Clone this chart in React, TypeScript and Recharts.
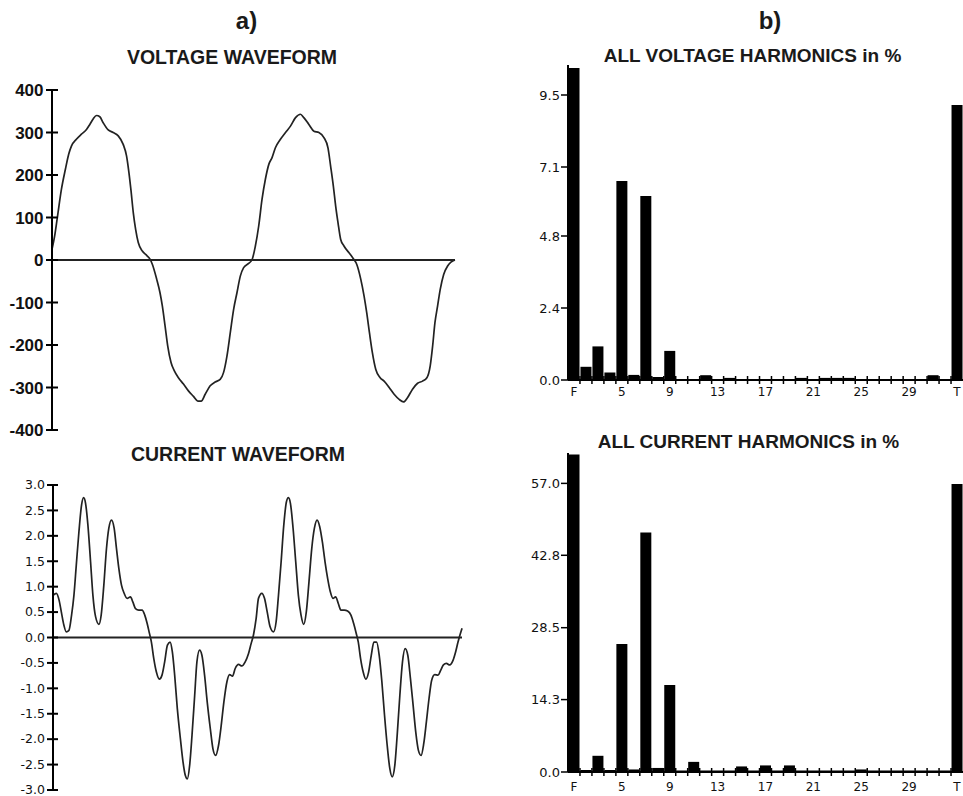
import React from "react";
import { LineChart, Line, BarChart, Bar, XAxis, YAxis, ReferenceLine } from "recharts";

// waveform samples (t in ms)
const voltageT = [
  0, 0.26, 0.53, 0.93, 1.32, 1.65, 1.92, 2.41, 2.91, 3.41, 3.74, 4.07, 4.4, 4.73, 5.06, 5.56, 6.05, 6.55,
  7.04, 7.37, 7.61, 7.8, 8.04, 8.27, 8.53, 8.93, 9.36, 9.69, 9.92, 10.35, 10.68, 10.91, 11.18, 11.44, 11.77,
  12.1, 12.5, 13.0, 13.49, 13.99, 14.42, 14.75, 15.15, 15.64, 16.14, 16.63, 16.96, 17.3, 17.63, 17.96, 18.29,
  18.62, 18.95, 19.44, 19.77, 20.11, 20.44, 20.77, 21.1, 21.44, 21.76, 22.09, 22.59, 23.09, 23.58, 24.08,
  24.57, 24.9, 25.4, 25.9, 26.39, 26.89, 27.29, 27.55, 27.82, 28.05, 28.28, 28.54, 28.87, 29.37, 29.8, 30.13,
  30.53, 30.86, 31.12, 31.39, 31.68, 32.01, 32.45, 32.84, 33.34, 33.83, 34.33, 34.76, 35.15, 35.65, 36.15,
  36.64, 37.07, 37.4, 37.64, 37.87, 38.13, 38.39, 38.73, 39.12, 39.45, 39.85,
];
const voltageV = [
  25, 56, 100, 166, 213, 249, 268, 284, 296, 307, 319, 332, 340, 337, 323, 306, 300, 292,
  272, 245, 205, 166, 111, 72, 41, 21, 11, 2, -10, -45, -77, -108, -155, -202, -241,
  -261, -277, -292, -308, -321, -332, -332, -316, -296, -287, -281, -265, -226, -171, -116, -77,
  -38, -18, -8, 0, 33, 80, 143, 190, 225, 241, 264, 284, 300, 315, 335,
  343, 335, 319, 303, 300, 288, 264, 221, 174, 127, 88, 49, 33, 17, 3, -10,
  -45, -85, -124, -171, -218, -257, -277, -285, -300, -316, -328, -334, -324, -304, -290,
  -285, -277, -249, -202, -147, -108, -69, -34, -14, -5, 0,
];

const currentT = [
  0, 0.33, 0.59, 0.81, 1.07, 1.3, 1.56, 1.82, 2.05, 2.28, 2.54, 2.8, 3.0, 3.19, 3.42, 3.68, 3.91, 4.17,
  4.5, 4.72, 4.98, 5.24, 5.47, 5.73, 5.99, 6.22, 6.45, 6.71, 6.97, 7.26, 7.59, 7.82, 8.08, 8.4, 8.73, 8.99,
  9.22, 9.45, 9.64, 9.87, 10.13, 10.42, 10.68, 10.94, 11.21, 11.47, 11.69, 11.92, 12.18, 12.48, 12.74,
  12.96, 13.16, 13.39, 13.62, 13.88, 14.1, 14.36, 14.59, 14.85, 15.11, 15.41, 15.67, 15.93, 16.22, 16.48,
  16.74, 17.04, 17.3, 17.59, 17.85, 18.18, 18.5, 18.83, 19.15, 19.41, 19.64, 19.9, 20.13,
  20.46, 20.72, 20.98, 21.27, 21.6, 21.86, 22.09, 22.35, 22.61, 22.87, 23.06, 23.26, 23.52, 23.78, 24.04,
  24.3, 24.56, 24.82, 25.08, 25.35, 25.61, 25.87, 26.13, 26.39, 26.65, 26.91, 27.17, 27.43, 27.69, 27.95,
  28.21, 28.54, 28.86, 29.19, 29.45, 29.71, 29.91, 30.13, 30.39, 30.65, 30.92, 31.18, 31.44, 31.7, 31.96,
  32.22, 32.48, 32.74, 33.0, 33.23, 33.49, 33.72, 33.98, 34.24, 34.5, 34.76, 35.02, 35.28, 35.54, 35.8,
  36.06, 36.32, 36.58, 36.84, 37.1, 37.4, 37.72, 37.99, 38.25, 38.54, 38.87, 39.19, 39.45, 39.68, 39.87, 40.07,
];
const currentI = [
  0.83, 0.87, 0.74, 0.51, 0.24, 0.11, 0.14, 0.44, 0.83, 1.42, 2.08, 2.61, 2.75, 2.64, 2.21, 1.49, 0.83, 0.41,
  0.26, 0.44, 1.03, 1.75, 2.15, 2.31, 2.15, 1.75, 1.36, 1.03, 0.87, 0.77, 0.8, 0.7, 0.57, 0.54, 0.54, 0.44,
  0.28, 0.08, -0.09, -0.41, -0.68, -0.82, -0.74, -0.48, -0.15, -0.09, -0.28, -0.74, -1.4, -1.99, -2.45,
  -2.71, -2.78, -2.51, -1.92, -1.14, -0.48, -0.25, -0.35, -0.74, -1.27, -1.79, -2.19, -2.32, -2.12, -1.73,
  -1.27, -0.87, -0.73, -0.76, -0.61, -0.53, -0.56, -0.48, -0.32, -0.12, 0.05, 0.37, 0.77,
  0.87, 0.77, 0.51, 0.21, 0.11, 0.31, 0.83, 1.49, 2.21, 2.67, 2.75, 2.64, 2.15, 1.49, 0.83,
  0.44, 0.26, 0.51, 1.1, 1.75, 2.15, 2.31, 2.18, 1.88, 1.49, 1.16, 0.9, 0.77, 0.8, 0.67,
  0.54, 0.54, 0.52, 0.44, 0.28, 0.08, -0.09, -0.41, -0.68, -0.82, -0.68, -0.35, -0.09, -0.09, -0.35,
  -0.87, -1.53, -2.12, -2.58, -2.74, -2.51, -1.92, -1.14, -0.48, -0.22, -0.35, -0.81, -1.33, -1.86, -2.22,
  -2.32, -2.09, -1.66, -1.2, -0.84, -0.73, -0.74, -0.64, -0.54, -0.51, -0.54, -0.45, -0.28, -0.09, 0.05, 0.18,
];

const harmonicLabels = [
  "F", "2", "3", "4", "5", "6", "7", "8", "9", "10", "11", "12", "13", "14", "15", "16", "17",
  "18", "19", "20", "21", "22", "23", "24", "25", "26", "27", "28", "29", "30", "31", "32", "T",
];
const voltageHarm = [
  10.4, 0.44, 1.12, 0.25, 6.63, 0.17, 6.13, 0.1, 0.97, 0.03, 0.03, 0.16, 0.03, 0.07, 0.03, 0.03, 0.03,
  0.03, 0.03, 0.07, 0.03, 0.07, 0.07, 0.07, 0.03, 0.03, 0.03, 0.03, 0.03, 0.03, 0.16, 0.03, 9.17,
];
const currentHarm = [
  62.7, 0.4, 3.2, 0.4, 25.3, 0.5, 47.3, 0.8, 17.2, 0.3, 2.0, 0.3, 0.3, 0.3, 1.1, 0.3, 1.3,
  0.3, 1.3, 0.3, 0.3, 0.3, 0.3, 0.3, 0.5, 0.3, 0.3, 0.3, 0.3, 0.3, 0.3, 0.3, 56.9,
];

const voltageTicks = [-400, -300, -200, -100, 0, 100, 200, 300, 400];
const currentTicks = [-3, -2.5, -2, -1.5, -1, -0.5, 0, 0.5, 1, 1.5, 2, 2.5, 3];
const voltageHarmTicks = [0, 2.4, 4.8, 7.1, 9.5];
const currentHarmTicks = [0, 14.3, 28.5, 42.8, 57.0];

const voltageData = voltageT.map((t, i) => ({ t, v: voltageV[i] }));
const currentData = currentT.map((t, i) => ({ t, i: currentI[i] }));
const vHarmData = harmonicLabels.map((h, i) => ({ h, val: voltageHarm[i] }));
const iHarmData = harmonicLabels.map((h, i) => ({ h, val: currentHarm[i] }));

const ARIAL = "'Liberation Sans', Arial, sans-serif";
const DEJAVU = "'DejaVu Sans', Verdana, sans-serif";
const INK = "#111";

const HARM_W = 483;
const HARM_YW = 88;
const BAND = (HARM_W - HARM_YW) / harmonicLabels.length;

function VoltTick({ x, y, payload }: any) {
  return (
    <g>
      <line x1={x - 6} x2={x + 6} y1={y} y2={y} stroke="#000" strokeWidth={2} />
      <text x={x - 8.5} y={y} dy="0.36em" textAnchor="end" fontFamily={ARIAL} fontWeight="bold" fontSize={17} fill={INK}>
        {payload.value}
      </text>
    </g>
  );
}

function CurrTick({ x, y, payload }: any) {
  return (
    <g>
      <line x1={x - 6} x2={x + 5} y1={y} y2={y} stroke="#000" strokeWidth={2} />
      <text x={x - 8} y={y} dy="0.34em" textAnchor="end" fontFamily={DEJAVU} fontSize={12.5} fill={INK}>
        {Number(payload.value).toFixed(1)}
      </text>
    </g>
  );
}

function makeHarmTick(labelDy: number) {
  return function HarmTick({ x, y, payload, index }: any) {
    return (
      <g>
        {index < harmonicLabels.length - 1 && (
          <line x1={x + BAND / 2} x2={x + BAND / 2} y1={y - 4} y2={y + 4} stroke="#000" strokeWidth={1.5} />
        )}
        {index % 4 === 0 && (
          <text x={x} y={y + labelDy} textAnchor="middle" fontFamily={DEJAVU} fontSize={12} fill={INK}>
            {payload.value}
          </text>
        )}
      </g>
    );
  };
}

const yHarmTick = { fontFamily: DEJAVU, fontSize: 13, fill: INK };

export default function App() {
  return (
    <div style={{ position: "absolute", left: 0, top: 0, width: 963, height: 796, background: "#fff", overflow: "hidden" }}>
      <svg width={963} height={796} style={{ position: "absolute", left: 0, top: 0 }}>
        <g fontFamily={ARIAL} fontWeight="bold" fill="#1a1a1a" textAnchor="middle">
          <text x={246.5} y={29} fontSize={24}>a)</text>
          <text x={770} y={29} fontSize={24}>b)</text>
          <text x={232} y={64} fontSize={19.5}>VOLTAGE WAVEFORM</text>
          <text x={752.5} y={62} fontSize={19}>ALL VOLTAGE HARMONICS in %</text>
          <text x={238} y={461} fontSize={19.5}>CURRENT WAVEFORM</text>
          <text x={748.5} y={448} fontSize={19}>ALL CURRENT HARMONICS in %</text>
        </g>
      </svg>

      {/* a) voltage waveform */}
      <div style={{ position: "absolute", left: 0, top: 0 }}>
        <LineChart width={460} height={440} data={voltageData} margin={{ top: 90, right: 5, bottom: 10, left: 0 }}>
          <XAxis dataKey="t" type="number" domain={["dataMin", "dataMax"]} hide />
          <YAxis
            width={52}
            domain={[-400, 400]}
            ticks={voltageTicks}
            interval={0}
            tickSize={0}
            tickMargin={0}
            tickLine={false}
            axisLine={{ stroke: "#000", strokeWidth: 2 }}
            tick={VoltTick}
          />
          <ReferenceLine y={0} stroke="#222" strokeWidth={2} />
          <Line type="monotone" dataKey="v" stroke="#222" strokeWidth={1.7} dot={false} isAnimationActive={false} />
        </LineChart>
      </div>

      {/* a) current waveform */}
      <div style={{ position: "absolute", left: 0, top: 400 }}>
        <LineChart width={470} height={396} data={currentData} margin={{ top: 85, right: 8, bottom: 6, left: 0 }}>
          <XAxis dataKey="t" type="number" domain={["dataMin", "dataMax"]} hide />
          <YAxis
            width={53}
            domain={[-3, 3]}
            ticks={currentTicks}
            interval={0}
            tickSize={0}
            tickMargin={0}
            tickLine={false}
            axisLine={{ stroke: "#000", strokeWidth: 2 }}
            tick={CurrTick}
          />
          <ReferenceLine y={0} stroke="#222" strokeWidth={2} />
          <Line type="monotone" dataKey="i" stroke="#222" strokeWidth={1.7} dot={false} isAnimationActive={false} />
        </LineChart>
      </div>

      {/* b) voltage harmonics */}
      <div style={{ position: "absolute", left: 480, top: 0 }}>
        <BarChart width={HARM_W} height={400} data={vHarmData} margin={{ top: 65, right: 0, bottom: 0, left: 0 }} barCategoryGap={0.5}>
          <XAxis
            dataKey="h"
            height={20}
            interval={0}
            tickSize={0}
            tickMargin={0}
            tickLine={false}
            axisLine={{ stroke: "#000", strokeWidth: 2 }}
            tick={makeHarmTick(16)}
          />
          <YAxis
            width={HARM_YW}
            domain={[0, 10.5]}
            ticks={voltageHarmTicks}
            interval={0}
            tickSize={7}
            tickMargin={1}
            tickLine={{ stroke: "#000", strokeWidth: 1.5 }}
            axisLine={{ stroke: "#000", strokeWidth: 2 }}
            tick={yHarmTick}
            tickFormatter={(v: number) => v.toFixed(1)}
          />
          <Bar dataKey="val" fill="#000" isAnimationActive={false} />
        </BarChart>
      </div>

      {/* b) current harmonics */}
      <div style={{ position: "absolute", left: 480, top: 400 }}>
        <BarChart width={HARM_W} height={396} data={iHarmData} margin={{ top: 53, right: 0, bottom: 0, left: 0 }} barCategoryGap={0.5}>
          <XAxis
            dataKey="h"
            height={24}
            interval={0}
            tickSize={0}
            tickMargin={0}
            tickLine={false}
            axisLine={{ stroke: "#000", strokeWidth: 2 }}
            tick={makeHarmTick(19)}
          />
          <YAxis
            width={HARM_YW}
            domain={[0, 63]}
            ticks={currentHarmTicks}
            interval={0}
            tickSize={7}
            tickMargin={1}
            tickLine={{ stroke: "#000", strokeWidth: 1.5 }}
            axisLine={{ stroke: "#000", strokeWidth: 2 }}
            tick={yHarmTick}
            tickFormatter={(v: number) => v.toFixed(1)}
          />
          <Bar dataKey="val" fill="#000" isAnimationActive={false} />
        </BarChart>
      </div>
    </div>
  );
}
